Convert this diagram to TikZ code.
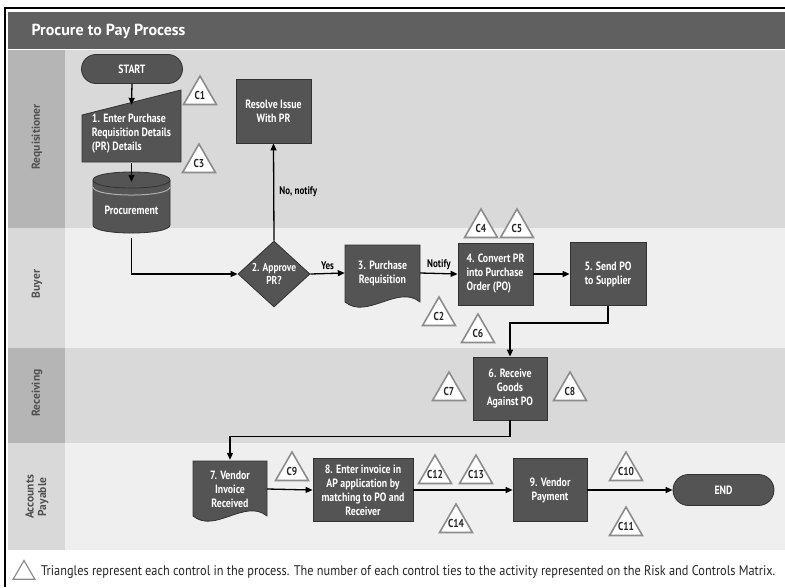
\documentclass[tikz,border=0pt]{standalone}
\usepackage{fontspec}
\setmainfont{PT Sans}
\newfontfamily\narrowfont[FakeStretch=0.82]{PT Sans}
\newfontfamily\legendfont[FakeStretch=0.88]{PT Sans}
\usetikzlibrary{arrows.meta, shapes.geometric, shapes.misc, calc}

\definecolor{bandgray}{RGB}{96,96,96}
\definecolor{boxgray}{RGB}{84,84,84}
\definecolor{boxedge}{RGB}{50,50,50}
\definecolor{lanedark}{RGB}{181,181,181}
\definecolor{lanemid}{RGB}{217,217,217}
\definecolor{lanelight}{RGB}{239,239,239}
\definecolor{ctrlgray}{RGB}{140,140,140}
\definecolor{lanetextgray}{RGB}{80,80,80}

\begin{document}
\begin{tikzpicture}[
    x=1pt, y=-1pt,
    font=\narrowfont\bfseries\fontsize{12}{14}\selectfont,
    task/.style={
        draw=boxedge,
        fill=boxgray,
        line width=0.8pt,
        text=white,
        align=center,
        inner sep=1pt
    },
    shapefill/.style={
        draw=boxedge,
        fill=boxgray,
        line width=0.8pt
    },
    textonly/.style={
        text=white,
        align=center,
        inner sep=1pt
    },
    terminal/.style={
        task,
        rounded rectangle,
        minimum width=103pt,
        minimum height=29pt
    },
    ctrl/.style={
        regular polygon,
        regular polygon sides=3,
        minimum size=38pt,
        inner sep=-4pt,
        draw=ctrlgray,
        line width=1.6pt,
        fill=white,
        text=black!85,
        font=\narrowfont\bfseries\fontsize{11.5}{12}\selectfont
    },
    lanetext/.style={
        rotate=90,
        align=center,
        text=lanetextgray,
        font=\bfseries\fontsize{11.5}{12.5}\selectfont
    },
    flowtext/.style={
        text=black,
        inner sep=1pt,
        font=\narrowfont\bfseries\fontsize{11}{12}\selectfont
    },
    flow/.style={
        -{Triangle[length=7pt,width=6pt]},
        line width=1.3pt
    }
]
\useasboundingbox (0,0) rectangle (785,587);

% ------------------------------------------------------------
% Frame, title band and swim lanes
% ------------------------------------------------------------
\fill[white] (0,0) rectangle (785,587);
\fill[bandgray] (8,12) rectangle (785,49);
\node[anchor=west, text=white, font=\bfseries\fontsize{16}{18}\selectfont] (title) at (28,31) {Procure to Pay Process};

\fill[lanedark]  (8,50)   rectangle (65,228);
\fill[lanemid]   (65,50)  rectangle (785,228);
\fill[lanemid]   (8,228)  rectangle (65,348);
\fill[lanelight] (65,228) rectangle (785,348);
\fill[lanedark]  (8,348)  rectangle (65,443);
\fill[lanemid]   (65,348) rectangle (785,443);
\fill[lanemid]   (8,443)  rectangle (65,550);
\fill[lanelight] (65,443) rectangle (785,550);

\draw[line width=2.2pt] (5,587) -- (5,8) -- (785,8);

\node[lanetext] (lreq) at (37,137) {Requisitioner};
\node[lanetext] (lbuy) at (37,284) {Buyer};
\node[lanetext] (lrec) at (37,393) {Receiving};
\node[lanetext] (lpay) at (37,497) {Accounts\\Payable};

% ------------------------------------------------------------
% Requisitioner
% ------------------------------------------------------------
\node[terminal] (start) at (132,69) {START};

% manual input shape for step 1
\filldraw[shapefill] (82,115) -- (181,90) -- (181,162) -- (82,162) -- cycle;
\node[textonly, align=left, minimum width=99pt, minimum height=58pt] (enter) at (131.5,134)
    {1. Enter Purchase\\Requisition Details\\(PR) Details};

% database cylinder
\filldraw[shapefill] (93,180) .. controls (93,169.3) and (170,169.3) .. (170,180)
    -- (170,225) .. controls (170,235.7) and (93,235.7) .. (93,225) -- cycle;
\draw[boxedge, line width=0.8pt] (93,180) .. controls (93,190.7) and (170,190.7) .. (170,180);
\draw[lanemid!80!black, line width=1pt] (93,187) .. controls (93,197.7) and (170,197.7) .. (170,187);
\node[textonly, minimum width=77pt, minimum height=56pt] (procure) at (131.5,210) {Procurement};

\node[task, minimum width=75pt, minimum height=64pt] (resolve) at (273.5,111) {Resolve Issue\\With PR};

\node[ctrl] (c1) at (200,95) {C1};
\node[ctrl] (c3) at (199,163) {C3};

% ------------------------------------------------------------
% Buyer
% ------------------------------------------------------------
\node[task, diamond, minimum width=72pt, minimum height=66pt, inner sep=0pt,
      font=\narrowfont\bfseries\fontsize{11.5}{12.5}\selectfont] (approve) at (274,274) {2. Approve\\PR?};

% document shape for step 3
\filldraw[shapefill] (345,245) -- (420,245) -- (420,302)
    .. controls (398,284) and (367,320) .. (345,302) -- cycle;
\node[textonly, minimum width=75pt, minimum height=50pt] (purreq) at (382.5,273) {3. Purchase\\Requisition};

\node[task, align=left, minimum width=75pt, minimum height=62pt] (convert) at (495.5,274) {4. Convert PR\\into Purchase\\Order (PO)};
\node[task, minimum width=76pt, minimum height=63pt] (sendpo) at (608,274) {5. Send PO\\to Supplier};

\node[ctrl] (c4) at (481,228) {C4};
\node[ctrl] (c5) at (517,228) {C5};
\node[ctrl] (c2) at (439,316) {C2};
\node[ctrl] (c6) at (478,333) {C6};

% ------------------------------------------------------------
% Receiving
% ------------------------------------------------------------
\node[task, minimum width=74pt, minimum height=63pt] (receive) at (510,388.5) {6. Receive\\Goods\\Against PO};

\node[ctrl] (c7) at (449,391) {C7};
\node[ctrl] (c8) at (570,391) {C8};

% ------------------------------------------------------------
% Accounts Payable
% ------------------------------------------------------------
% document shape for step 7
\filldraw[shapefill] (193,461) -- (267,461) -- (267,516)
    .. controls (245,498) and (215,534) .. (193,516) -- cycle;
\node[textonly, minimum width=74pt, minimum height=58pt] (invoice) at (230,489) {7. Vendor\\Invoice\\Received};

\node[task, minimum width=100pt, minimum height=63pt] (enterinv) at (363,490)
    {8. Enter invoice in\\AP application by\\matching to PO and\\Receiver};
\node[task, minimum width=74pt, minimum height=63pt] (payment) at (550,490) {9. Vendor\\Payment};
\node[terminal, minimum height=31pt] (finish) at (723.5,490) {END};

\node[ctrl] (c9)  at (292,471) {C9};
\node[ctrl] (c12) at (435,474) {C12};
\node[ctrl] (c13) at (476,474) {C13};
\node[ctrl] (c14) at (456,523) {C14};
\node[ctrl] (c10) at (626,471) {C10};
\node[ctrl] (c11) at (626,526) {C11};

% ------------------------------------------------------------
% Connectors
% ------------------------------------------------------------
\draw[flow] (start.south) -- (enter.north);
\draw[flow] (enter.south) -- (procure.north);
\draw[flow] (procure.south) |- (approve.west);
\draw[flow] (approve.north) -- node[flowtext, anchor=west, xshift=4pt] (lblno) {No, notify} (resolve.south);
\draw[flow] (approve.east) -- node[flowtext, above=2pt] (lblyes) {Yes} (purreq.west);
\draw[flow] (purreq.east) -- node[flowtext, above=2pt] (lblnotify) {Notify} (convert.west);
\draw[flow] (convert.east) -- (sendpo.west);
\draw[flow] (sendpo.south) -- ++(0,17) -| (receive.north);
\draw[flow] (receive.south) -- ++(0,16) -| (invoice.north);
\draw[flow] (invoice.east) -- (enterinv.west);
\draw[flow] (enterinv.east) -- (payment.west);
\draw[flow] (payment.east) -- (finish.west);

% ------------------------------------------------------------
% Legend
% ------------------------------------------------------------
\node[regular polygon, regular polygon sides=3, minimum size=25pt, inner sep=0pt,
      draw=ctrlgray, line width=1.2pt] (legtri) at (24,573) {};
\node[anchor=west, inner sep=0pt, text=black!85, font=\legendfont\fontsize{14}{16}\selectfont] (legtxt) at (41,572)
    {Triangles represent each control in the process. The number of each control ties to the activity represented on the Risk and Controls Matrix.};

\end{tikzpicture}
\end{document}
